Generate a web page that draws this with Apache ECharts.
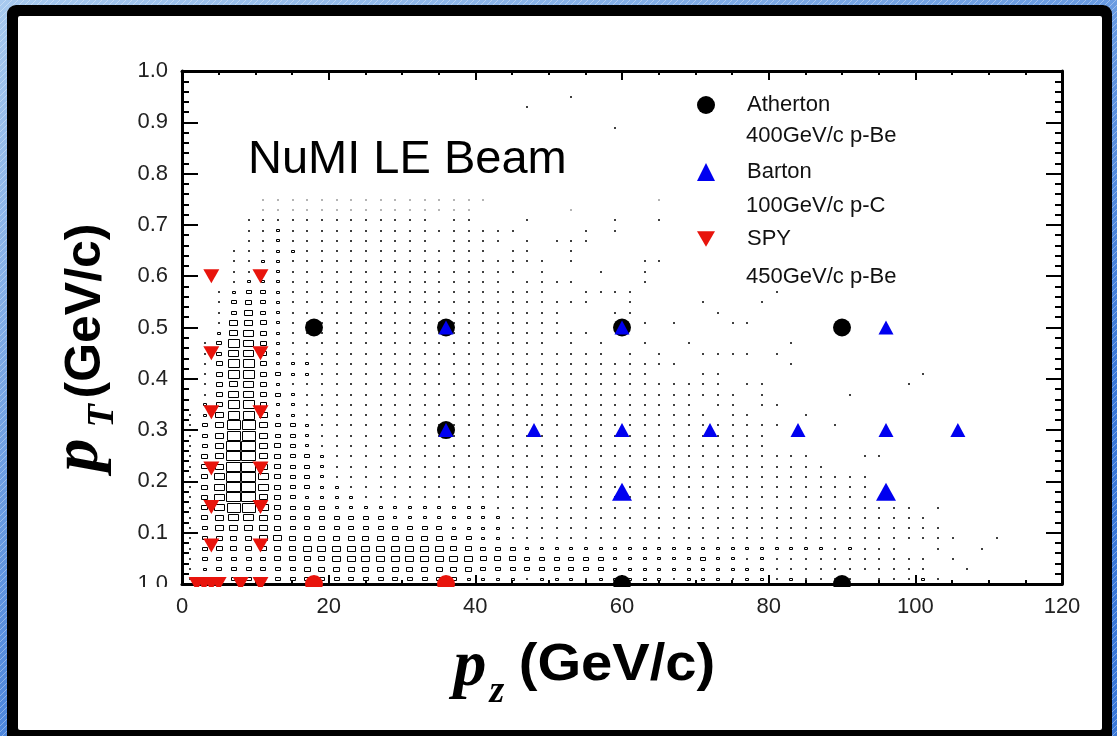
<!DOCTYPE html>
<html>
<head>
<meta charset="utf-8">
<script src="https://cdn.jsdelivr.net/npm/echarts@6/dist/echarts.min.js"></script>
<style>
html, body { margin: 0; padding: 0; background: #fff; }
#chart { width: 1117px; height: 736px; }
</style>
</head>
<body>
<div id="chart"></div>
<script>
// ---- data ---------------------------------------------------------------
const PZ_BIN = 2;       // GeV/c per histogram column (0-120)
const PT_BIN = 0.02;    // GeV/c per histogram row (0-1)
const MAX_LEVEL = 9;

// NuMI LE beam parent (pz, pT) population, one string per pT row
// (row 0 = 0-0.02 GeV/c), one character per pz column, grouped by ten.
// Digits are relative bin contents, '.' a very weak bin, '0' an empty one.
const boxRows = [
  "1233333333 3333333332 2221222122 2221222122 1211110111 21",
  "1233333344 4444444444 3333333332 2222222222 1111111111 1001",
  "1333334444 5555555555 4443333332 2222232212 1111111111 101",
  "1344444455 5555555544 3332222222 2222222222 2222121110 01001",
  "1344455444 4444444433 2211111111 1111111111 1111111111 111001",
  "1355554333 3333333322 2211111111 1111111111 1111111111 11",
  "1456654333 3333222222 2211111111 1111111111 1111111111 1",
  "1468864333 2222222222 2111111111 1111111111 1111111111 01",
  "1469954322 2211111111 1111111111 1111111111 1111111",
  "1469964332 2111111111 1111111111 1111111111 1111111",
  "1469964332 1111111111 1111111111 1111111111 1111111",
  "1459954332 1111111111 1111111111 1111111111 1111",
  "1459954332 1111111111 1111111111 1111111111 11100011",
  "1359954321 1111111111 1111111111 1111111111",
  "1358853321 1111111111 1111111111 1111111111",
  "1358853321 1111111111 1111111111 1111111111 10001",
  "1257752211 1111111111 1111111111 1111110110 001",
  "0247742211 1111111111 1111111111 1111101101 1",
  "0146643211 1111111111 1111111111 1111111101 000001",
  "0145642111 1111111111 1111111111 1111111011 0000000001",
  "0147743221 1111111111 1111111111 1100011000 0000000000 1",
  "0147742221 1111111111 1111111111 1111000000 01",
  "0136642111 1111111111 1111111110 1010011110 1",
  "0137642111 1111111111 1111101010 0100100000 01",
  "0025642111 1111111111 11111111",
  "0015542111 1111111111 1111110000 0101000110",
  "0013532111 1111111111 1111110001 1000001",
  "0013432111 1111111111 1111111100 1000010001",
  "0012332111 1111111111 1111100111 1000000000 1",
  "0001222111 1111111111 1101111000 01",
  "0001122111 1111111111 1110100010 01",
  "0001122111 1111111111 1111101000 011",
  "0001112211 1111111111 1011001",
  "0000112111 1111111011 11010111",
  "0000112111 1111111111 1110000101",
  "0000111111 1111111011 0001000001 001",
  "00000..... .......... 000000.",
  "00000..... .......... .000000000 00.",
  "",
  "",
  "",
  "",
  "",
  "",
  "0000000000 0000000000 0000000001",
  "",
  "0000000000 0000000000 0001",
  "0000000000 0000000000 0000001"
];

// Atherton, 400 GeV/c p-Be
const athertonPz = [18, 36, 60, 90, 36, 60, 90];
const athertonPt = [0.5, 0.5, 0.5, 0.5, 0.3, 0, 0];

// Barton, 100 GeV/c p-C
const bartonPz = [36, 60, 96, 36, 48, 60, 72, 84, 96, 105.8];
const bartonPt = [0.5, 0.5, 0.5, 0.3, 0.3, 0.3, 0.3, 0.3, 0.3, 0.3];
const bartonLowPz = [60, 96];
const bartonLowPt = [0.18, 0.18];

// SPY, 450 GeV/c p-Be
const spyPz = [4, 4, 4, 4, 4, 4, 10.7, 10.7, 10.7, 10.7, 10.7, 10.7, 2, 3, 4, 5, 8, 10.7];
const spyPt = [0.6, 0.45, 0.335, 0.225, 0.15, 0.075, 0.6, 0.45, 0.335, 0.225, 0.15, 0.075, 0, 0, 0, 0, 0, 0];
const spyForwardPz = [18, 36];
const spyForwardPt = [0, 0];

const legendNames = ['Atherton', 'Barton', 'SPY'];
const legendBeams = ['400GeV/c p-Be', '100GeV/c p-C', '450GeV/c p-Be'];

const xTicks = { min: 0, max: 120, step: 20 };
const yTicks = { min: 0, max: 1, step: 0.1 };

// ---- build series data --------------------------------------------------
const boxData = [];
boxRows.forEach((row, r) => {
  const cells = row.replace(/ /g, '');
  for (let c = 0; c < cells.length; c++) {
    const ch = cells[c];
    const v = ch === '.' ? 0.5 : Number(ch);
    if (v > 0) boxData.push([(c + 0.5) * PZ_BIN, (r + 0.5) * PT_BIN, v]);
  }
});
const zip = (xs, ys) => xs.map((x, i) => [x, ys[i]]);

const FONT = 'Liberation Sans, Arial, sans-serif';
const SERIF = 'Liberation Serif, Times New Roman, serif';
const DOWN_TRI = 'path://M0,0L20,0L10,17Z';

// blue hatched page border
function hatchPattern() {
  const cv = document.createElement('canvas');
  cv.width = 6; cv.height = 6;
  const g = cv.getContext('2d');
  g.strokeStyle = 'rgba(255,255,255,0.35)';
  g.lineWidth = 1;
  g.beginPath();
  g.moveTo(0, 6); g.lineTo(6, 0);
  g.stroke();
  return cv;
}

const chart = echarts.init(document.getElementById('chart'), null, { renderer: 'canvas' });

const axisCommon = {
  type: 'value',
  axisLine: { show: true, onZero: false, lineStyle: { color: '#000', width: 3 } },
  splitLine: { show: false }
};

const option = {
  animation: false,
  backgroundColor: {
    type: 'linear', x: 0, y: 0, x2: 0.3, y2: 1,
    colorStops: [{ offset: 0, color: '#a8caef' }, { offset: 1, color: '#3a78d8' }]
  },
  grid: { left: 182, right: 55, top: 71, bottom: 152, containLabel: false },
  xAxis: [
    Object.assign({}, axisCommon, {
      position: 'bottom', min: xTicks.min, max: xTicks.max, interval: xTicks.step,
      axisTick: { show: true, inside: true, length: 9, lineStyle: { color: '#000', width: 2 } },
      minorTick: { show: true, splitNumber: 4, length: 4, lineStyle: { color: '#000', width: 2 } },
      axisLabel: { fontSize: 22, fontFamily: FONT, color: '#222', margin: 12 }
    }),
    Object.assign({}, axisCommon, {
      position: 'top', min: xTicks.min, max: xTicks.max, interval: xTicks.step,
      axisTick: { show: true, inside: true, length: 9, lineStyle: { color: '#000', width: 2 } },
      minorTick: { show: true, splitNumber: 4, length: 4, lineStyle: { color: '#000', width: 2 } },
      axisLabel: { show: false }
    })
  ],
  yAxis: [
    Object.assign({}, axisCommon, {
      position: 'left', min: yTicks.min, max: yTicks.max, interval: yTicks.step,
      axisTick: { show: true, inside: true, length: 16, lineStyle: { color: '#000', width: 2 } },
      minorTick: { show: true, splitNumber: 5, length: 7, lineStyle: { color: '#000', width: 2 } },
      axisLabel: {
        fontSize: 22, fontFamily: FONT, color: '#222', margin: 14,
        formatter: v => (v === 0 ? '1.0' : v.toFixed(1))
      }
    }),
    Object.assign({}, axisCommon, {
      position: 'right', min: yTicks.min, max: yTicks.max, interval: yTicks.step,
      axisTick: { show: true, inside: true, length: 16, lineStyle: { color: '#000', width: 2 } },
      minorTick: { show: true, splitNumber: 5, length: 7, lineStyle: { color: '#000', width: 2 } },
      axisLabel: { show: false }
    })
  ],
  legend: {
    orient: 'vertical', left: 692, top: 89,
    itemWidth: 18, itemHeight: 18, itemGap: 45,
    selectedMode: false,
    itemStyle: { opacity: 1 },
    textStyle: { fontSize: 22, fontFamily: FONT, color: '#111', padding: [0, 0, 0, 27] },
    data: [
      { name: legendNames[0], icon: 'circle' },
      { name: legendNames[1], icon: 'triangle' },
      { name: legendNames[2], icon: DOWN_TRI }
    ]
  },
  graphic: [
    // page border: blue hatch, black frame, white panel
    { type: 'rect', z: -20, shape: { x: 0, y: 0, width: 1117, height: 736 },
      style: { fill: { image: hatchPattern(), repeat: 'repeat' } } },
    { type: 'rect', z: -19, shape: { x: 7, y: 5, width: 1105, height: 745, r: 9 }, style: { fill: '#000' } },
    { type: 'rect', z: -18, shape: { x: 18, y: 16, width: 1084, height: 714, r: 2 }, style: { fill: '#fff' } },
    // markers on the pT = 0 edge are cut at the frame
    { type: 'rect', z: 50, shape: { x: 120, y: 587, width: 960, height: 9 }, style: { fill: '#fff' } },
    // title
    { type: 'text', z: 10, x: 248, y: 160,
      style: { text: 'NuMI LE Beam', font: '47px ' + FONT, fill: '#000', textVerticalAlign: 'middle' } },
    // second legend lines
    { type: 'text', z: 10, x: 746, y: 136,
      style: { text: legendBeams[0], font: '22px ' + FONT, fill: '#111', textVerticalAlign: 'middle' } },
    { type: 'text', z: 10, x: 746, y: 206,
      style: { text: legendBeams[1], font: '22px ' + FONT, fill: '#111', textVerticalAlign: 'middle' } },
    { type: 'text', z: 10, x: 746, y: 277,
      style: { text: legendBeams[2], font: '22px ' + FONT, fill: '#111', textVerticalAlign: 'middle' } },
    // x-axis title: p_z (GeV/c)
    { type: 'text', z: 10, x: 470, y: 668,
      style: { text: 'p', font: 'italic bold 66px ' + SERIF, fill: '#000', textAlign: 'center', textVerticalAlign: 'middle' } },
    { type: 'text', z: 10, x: 497, y: 692,
      style: { text: 'z', font: 'italic bold 38px ' + SERIF, fill: '#000', textAlign: 'center', textVerticalAlign: 'middle' } },
    { type: 'text', z: 10, x: 617, y: 666, scaleX: 1.08,
      style: { text: '(GeV/c)', font: 'bold 52px ' + FONT, fill: '#000', textAlign: 'center', textVerticalAlign: 'middle' } },
    // y-axis title: p_T (GeV/c)
    { type: 'text', z: 10, x: 80, y: 455, rotation: Math.PI / 2,
      style: { text: 'p', font: 'italic bold 66px ' + SERIF, fill: '#000', textAlign: 'center', textVerticalAlign: 'middle' } },
    { type: 'text', z: 10, x: 103, y: 416, rotation: Math.PI / 2,
      style: { text: 'T', font: 'italic bold 38px ' + SERIF, fill: '#000', textAlign: 'center', textVerticalAlign: 'middle' } },
    { type: 'text', z: 10, x: 86, y: 311, rotation: Math.PI / 2,
      style: { text: '(GeV/c)', font: 'bold 50px ' + FONT, fill: '#000', textAlign: 'center', textVerticalAlign: 'middle' } }
  ],
  series: [
    {
      type: 'custom', name: 'NuMI LE', z: 2,
      data: boxData, encode: { x: 0, y: 1 }, clip: true,
      renderItem(params, api) {
        const v = api.value(2);
        const c = api.coord([api.value(0), api.value(1)]);
        const cell = api.size([PZ_BIN, PT_BIN]);
        // box sides grow with bin content, a full bin fills its cell
        const f = Math.min(1, (v + 0.5) / MAX_LEVEL);
        const w = Math.max(1, Math.round(cell[0] * f) - 1);
        const h = Math.max(1, Math.round(cell[1] * f) - 1);
        return {
          type: 'rect',
          shape: { x: Math.round(c[0] - w / 2) + 0.5, y: Math.round(c[1] - h / 2) + 0.5, width: w, height: h },
          style: { fill: null, stroke: v < 1 ? '#9a9a9a' : '#000', lineWidth: 1 }
        };
      }
    },
    {
      type: 'scatter', name: legendNames[0], z: 3,
      symbol: 'circle', symbolSize: 18,
      itemStyle: { color: '#000', opacity: 1 },
      data: zip(athertonPz, athertonPt)
    },
    {
      type: 'scatter', name: legendNames[1], z: 4,
      symbol: 'triangle', symbolSize: [15, 14],
      itemStyle: { color: '#0000f0', opacity: 1 },
      data: zip(bartonPz, bartonPt)
    },
    {
      type: 'scatter', name: legendNames[1], z: 4,
      symbol: 'triangle', symbolSize: [20, 18],
      itemStyle: { color: '#0000f0', opacity: 1 },
      data: zip(bartonLowPz, bartonLowPt)
    },
    {
      type: 'scatter', name: legendNames[2], z: 5,
      symbol: DOWN_TRI, symbolSize: [16, 14],
      itemStyle: { color: '#e8140c', opacity: 1 },
      data: zip(spyPz, spyPt)
    },
    {
      type: 'scatter', name: legendNames[2], z: 5,
      symbol: 'circle', symbolSize: 18,
      itemStyle: { color: '#e8140c', opacity: 1 },
      data: zip(spyForwardPz, spyForwardPt)
    }
  ]
};

chart.setOption(option);
</script>
</body>
</html>
